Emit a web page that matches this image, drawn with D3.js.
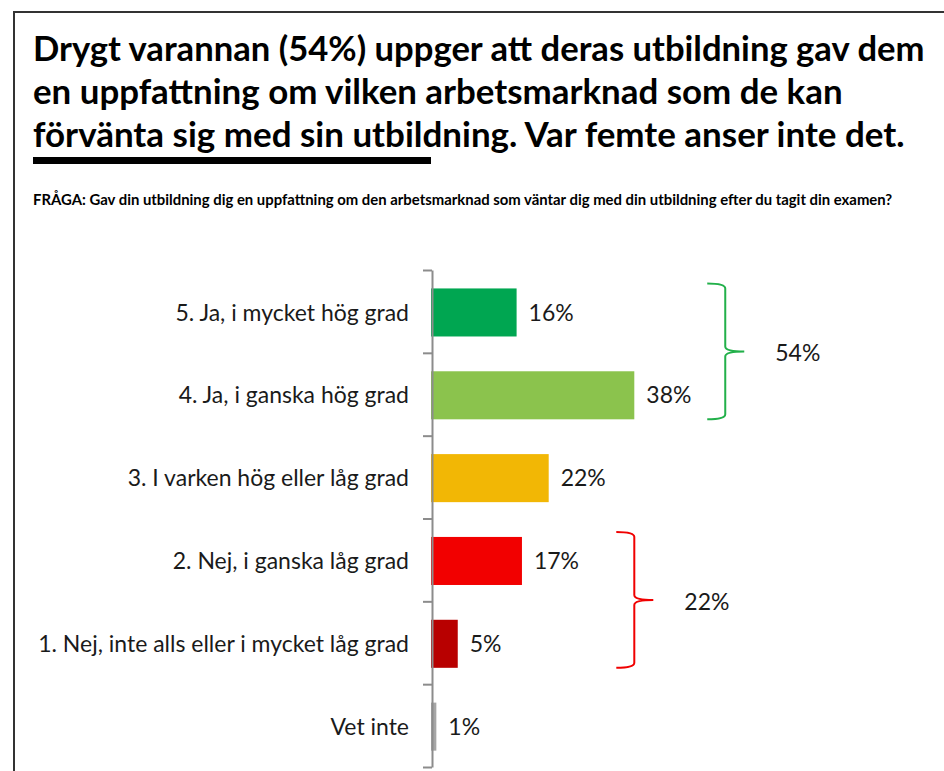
<!DOCTYPE html>
<html>
<head>
<meta charset="utf-8">
<script src="https://cdn.jsdelivr.net/npm/d3@7"></script>
<style>
  body { margin: 0; background: #fff; }
  svg { display: block; font-family: Lato, "Open Sans", sans-serif; }
</style>
</head>
<body>
<div id="chart"></div>
<script>
const titleLines = [
  "Drygt varannan (54%) uppger att deras utbildning gav dem",
  "en uppfattning om vilken arbetsmarknad som de kan",
  "förvänta sig med sin utbildning. Var femte anser inte det."
];
const question = "FRÅGA: Gav din utbildning dig en uppfattning om den arbetsmarknad som väntar dig med din utbildning efter du tagit din examen?";
const categories = [
  "5. Ja, i mycket hög grad",
  "4. Ja, i ganska hög grad",
  "3. I varken hög eller låg grad",
  "2. Nej, i ganska låg grad",
  "1. Nej, inte alls eller i mycket låg grad",
  "Vet inte"
];
const values = [16, 38, 22, 17, 5, 1];
const colors = ["#00a651", "#8bc34d", "#f2b705", "#f20000", "#b80000", "#a6a6a6"];
const groups = [
  { from: 0, to: 1, label: "54%", at: 55, color: "#22b04a" },
  { from: 3, to: 4, label: "22%", at: 38, color: "#f00000" }
];

const W = 944, H = 771;
const svg = d3.select("#chart").append("svg").attr("width", W).attr("height", H);

// frame
svg.append("path").attr("d", `M14,${H} L14,12 L${W},12`)
  .attr("fill", "none").attr("stroke", "#333").attr("stroke-width", 2);

// fit a text element to a target width by changing font-size
const fit = (sel, width) => {
  const len = sel.node().getComputedTextLength();
  const fs = parseFloat(sel.attr("font-size"));
  sel.attr("font-size", fs * width / len);
};

const titleWidths = [892, 810, 872];
titleLines.forEach((t, i) => {
  const el = svg.append("text").attr("x", 33).attr("y", 61 + i * 43)
    .attr("font-size", 30).attr("font-weight", 700).attr("fill", "#000").text(t);
  fit(el, titleWidths[i]);
});
svg.append("rect").attr("x", 33).attr("y", 157).attr("width", 398).attr("height", 7).attr("fill", "#000");

const q = svg.append("text").attr("x", 33).attr("y", 205)
  .attr("font-size", 11).attr("font-weight", 700).attr("fill", "#000").text(question);
fit(q, 860);

const x = d3.scaleLinear().domain([0, 100]).range([431, 966]);
const y = d3.scaleBand().domain(categories).range([270, 767])
  .paddingInner(0.42).paddingOuter(0.21).align(0.53);
const yTicks = d3.scaleLinear().domain([0, categories.length]).range([270, 767]);

svg.append("g").selectAll("rect").data(values).join("rect")
  .attr("x", x(0))
  .attr("y", (d, i) => y(categories[i]))
  .attr("width", d => x(d) - x(0))
  .attr("height", y.bandwidth())
  .attr("fill", (d, i) => colors[i]);

const axis = svg.append("g").attr("transform", "translate(432,0)")
  .call(d3.axisLeft(yTicks).ticks(categories.length).tickFormat("").tickSize(9).tickSizeOuter(0));
axis.select(".domain").attr("stroke", "#8c8c8c").attr("stroke-width", 2);
axis.selectAll(".tick line").attr("stroke", "#8c8c8c").attr("stroke-width", 2);

const catLabels = svg.append("g").selectAll("text").data(categories).join("text")
  .attr("x", 409)
  .attr("y", d => y(d) + y.bandwidth() / 2)
  .attr("dy", "0.35em")
  .attr("text-anchor", "end")
  .attr("font-size", 19)
  .attr("fill", "#1a1a1a")
  .text(d => d);
const longest = catLabels.filter((d, i) => i === 4);
fit(longest, 371);
catLabels.attr("font-size", longest.attr("font-size"));

svg.append("g").selectAll("text").data(values).join("text")
  .attr("x", d => x(d) + 12)
  .attr("y", (d, i) => y(categories[i]) + y.bandwidth() / 2)
  .attr("dy", "0.35em")
  .attr("font-size", longest.attr("font-size"))
  .attr("fill", "#1a1a1a")
  .text(d => d + "%");

// braces
groups.forEach(g => {
  const top = y(categories[g.from]) - 5;
  const bot = y(categories[g.to]) + y.bandwidth();
  const mid = (top + bot) / 2;
  const bx = x(g.at);
  const r = 5;
  const path = `M${bx - 18},${top} Q${bx},${top} ${bx},${top + r} L${bx},${mid - r}` +
    ` Q${bx},${mid} ${bx + 19},${mid} M${bx + 19},${mid} Q${bx},${mid} ${bx},${mid + r}` +
    ` L${bx},${bot - r} Q${bx},${bot} ${bx - 18},${bot}`;
  svg.append("path").attr("d", path).attr("fill", "none")
    .attr("stroke", g.color).attr("stroke-width", 2);
  svg.append("text").attr("x", bx + 50).attr("y", mid + 2).attr("dy", "0.35em")
    .attr("font-size", longest.attr("font-size")).attr("fill", "#1a1a1a").text(g.label);
});
</script>
</body>
</html>
